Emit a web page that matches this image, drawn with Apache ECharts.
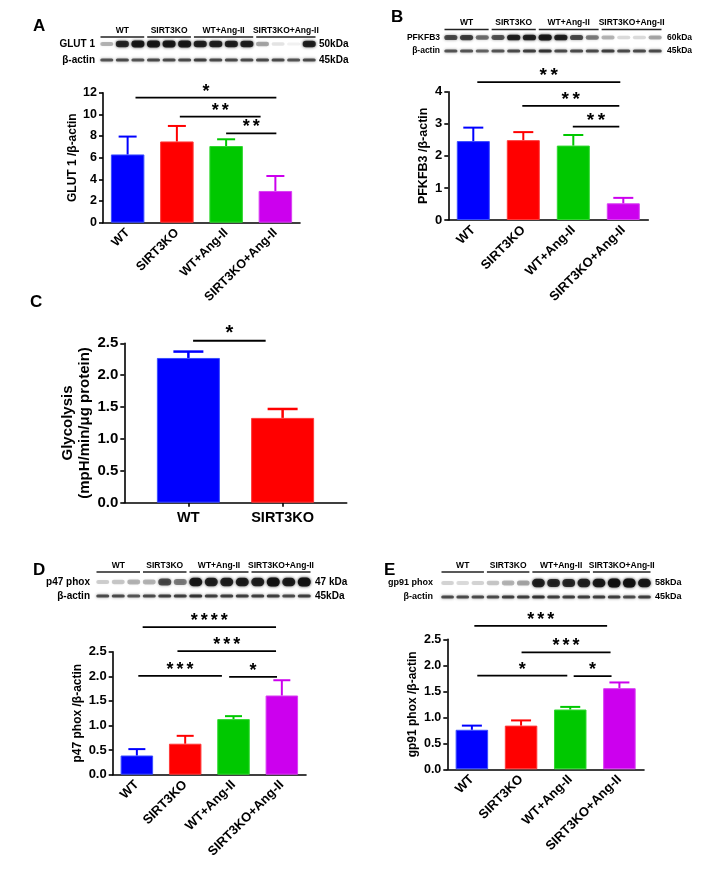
<!DOCTYPE html>
<html><head><meta charset="utf-8">
<script src="https://cdn.jsdelivr.net/npm/echarts@6/dist/echarts.min.js"></script>
<style>html,body{margin:0;padding:0;background:#fff}#c{width:717px;height:881px}</style>
</head><body><div id="c"></div><script>
// ---------- DATA ----------
const groups4 = ['WT', 'SIRT3KO', 'WT+Ang-II', 'SIRT3KO+Ang-II'];
const groups2 = ['WT', 'SIRT3KO'];

const glut1Mean = [6.3, 7.5, 7.08, 2.93];
const glut1Err  = [1.65, 1.43, 0.62, 1.38];
const glut1Sig  = [[0.16, 3.02, 11.54, '*'], [1.06, 2.70, 9.79, '**'], [2.0, 3.02, 8.25, '**']];

const pfkfb3Mean = [2.46, 2.49, 2.32, 0.52];
const pfkfb3Err  = [0.42, 0.25, 0.33, 0.17];
const pfkfb3Sig  = [[0.08, 2.94, 4.30, '**'], [0.98, 2.92, 3.56, '**'], [1.99, 2.92, 2.91, '**']];

const glyMean = [2.27, 1.33];
const glyErr  = [0.10, 0.14];
const glySig  = [[0.05, 0.82, 2.54, '*']];

const p47Mean = [0.39, 0.63, 1.13, 1.61];
const p47Err  = [0.13, 0.16, 0.06, 0.31];
const p47Sig  = [[0.12, 2.88, 3.0, '****'], [0.84, 2.88, 2.51, '***'], [0.03, 1.76, 2.01, '***'], [1.91, 2.90, 1.99, '*']];

const gp91Mean = [0.76, 0.84, 1.15, 1.56];
const gp91Err  = [0.08, 0.10, 0.05, 0.11];
const gp91Sig  = [[0.05, 2.75, 2.76, '***'], [1.01, 2.82, 2.25, '***'], [0.11, 1.94, 1.80, '*'], [2.07, 2.84, 1.79, '*']];

// western blot lanes (relative band intensity 0..1), 14 lanes
const laneGroups = [[0, 2], [3, 5], [6, 9], [10, 13]];
const glut1Bands  = [0.3, 0.85, 0.95, 0.95, 0.95, 0.95, 0.9, 0.9, 0.9, 0.9, 0.35, 0.12, 0.06, 0.9];
const glut1Actin  = [0.65, 0.7, 0.65, 0.7, 0.7, 0.7, 0.75, 0.7, 0.7, 0.7, 0.7, 0.7, 0.65, 0.7];
const pfkfb3Bands = [0.7, 0.75, 0.55, 0.65, 0.9, 0.9, 0.95, 0.9, 0.7, 0.5, 0.3, 0.15, 0.15, 0.35];
const pfkfb3Actin = [0.65, 0.65, 0.6, 0.65, 0.7, 0.75, 0.8, 0.7, 0.7, 0.7, 0.75, 0.7, 0.7, 0.7];
const p47Bands    = [0.2, 0.22, 0.3, 0.3, 0.7, 0.5, 0.95, 0.9, 0.9, 0.92, 0.9, 1, 0.92, 1];
const p47Actin    = [0.7, 0.7, 0.65, 0.7, 0.75, 0.75, 0.8, 0.75, 0.75, 0.75, 0.75, 0.75, 0.7, 0.75];
const gp91Bands   = [0.18, 0.15, 0.18, 0.22, 0.3, 0.35, 0.9, 0.85, 0.85, 0.9, 0.95, 1, 1, 0.95];
const gp91Actin   = [0.7, 0.7, 0.7, 0.7, 0.75, 0.75, 0.8, 0.75, 0.75, 0.75, 0.75, 0.75, 0.7, 0.75];

// ---------- STYLE ----------
const FONT = '"Liberation Sans", Arial, sans-serif';
const colors4 = ['#0000ff', '#ff0000', '#00c800', '#cc00ee'];
const border4 = ['#3a4dff', '#ff3a3a', '#30d830', '#d840f2'];
const grids = [], xAxes = [], yAxes = [], series = [];

function addBarPanel(p) {
  const gi = grids.length;
  grids.push({left: p.left, top: p.top, width: p.width, height: p.height});
  const isCat = !p.xRange;
  const xi = xAxes.length, yi = yAxes.length;
  const lineS = {color: '#000', width: 1.6};
  const lab = {fontSize: p.xFont, fontWeight: 'bold', color: '#000', fontFamily: FONT, margin: p.xMargin};
  if (isCat) {
    xAxes.push({type: 'category', gridIndex: gi, data: p.cats,
      axisLine: {onZero: false, lineStyle: lineS}, axisTick: {alignWithLabel: true, length: 4, lineStyle: lineS},
      axisLabel: Object.assign({rotate: p.rotate || 0, interval: 0}, lab), splitLine: {show: false}});
  } else {
    xAxes.push({type: 'value', gridIndex: gi, min: p.xRange[0], max: p.xRange[1],
      axisLine: {show: true, onZero: false, lineStyle: lineS},
      axisTick: {show: true, customValues: p.cats.map((c, i) => i), length: 4, lineStyle: lineS},
      axisLabel: Object.assign({customValues: p.cats.map((c, i) => i), formatter: v => p.cats[Math.round(v)]}, lab),
      splitLine: {show: false}});
  }
  yAxes.push({type: 'value', gridIndex: gi, min: p.yMin, max: p.yMax, interval: p.yInt,
    name: p.yName, nameLocation: 'middle', nameGap: p.nameGap, nameRotate: 90,
    nameTextStyle: {fontSize: p.nameFont, fontWeight: 'bold', color: '#000', fontFamily: FONT, lineHeight: p.nameLH || p.nameFont + 2},
    axisLine: {show: true, onZero: false, lineStyle: lineS}, axisTick: {show: true, length: 4, lineStyle: lineS},
    axisLabel: {formatter: v => v.toFixed(p.dec), fontSize: p.yFont, fontWeight: 'bold', color: '#000', fontFamily: FONT, margin: 6},
    splitLine: {show: false}});
  series.push({type: 'bar', xAxisIndex: xi, yAxisIndex: yi, barWidth: p.barWidth, silent: true,
    data: p.means.map((v, i) => ({value: isCat ? v : [i, v], itemStyle: {color: colors4[i], borderColor: border4[i], borderWidth: 1}}))});
  series.push({type: 'custom', xAxisIndex: xi, yAxisIndex: yi, silent: true, z: 3,
    data: p.means.map((v, i) => [i, v]),
    renderItem: (params, api) => {
      const i = params.dataIndex;
      const b = api.coord([i, p.means[i]]);
      const t = api.coord([i, p.means[i] + p.errs[i]]);
      const st = {stroke: colors4[i], lineWidth: p.errW};
      return {type: 'group', children: [
        {type: 'line', shape: {x1: b[0], y1: b[1], x2: t[0], y2: t[1]}, style: st},
        {type: 'line', shape: {x1: t[0] - p.cap, y1: t[1], x2: t[0] + p.cap, y2: t[1]}, style: st}
      ]};
    }});
  series.push({type: 'custom', xAxisIndex: xi, yAxisIndex: yi, silent: true, z: 3,
    data: p.sig.map(s => [Math.round(s[0]), s[2]]),
    renderItem: (params, api) => {
      const s = p.sig[params.dataIndex];
      const xp = f => {
        if (!isCat) return api.coord([f, 0])[0];
        const fl = Math.floor(f);
        return api.coord([fl, 0])[0] + (f - fl) * api.size([1, 0])[0];
      };
      const x1 = xp(s[0]), x2 = xp(s[1]);
      const y = api.coord([0, s[2]])[1];
      const n = s[3].length, mid = (x1 + x2) / 2;
      const ch = [{type: 'line', shape: {x1: x1, y1: y, x2: x2, y2: y}, style: {stroke: '#000', lineWidth: 1.8}}];
      for (let k = 0; k < n; k++) {
        ch.push({type: 'text', style: {text: '*', x: mid + (k - (n - 1) / 2) * p.starPitch, y: y - p.starDy,
          align: 'center', verticalAlign: 'middle', font: 'bold ' + p.starFont + 'px ' + FONT, fill: '#000'}});
      }
      return {type: 'group', children: ch};
    }});
}

function addBlot(b) {
  const gi = grids.length;
  const rowH = b.yActin - b.yTarget;
  grids.push({left: b.x0, top: b.yTarget - rowH / 2, width: b.x1 - b.x0, height: 2 * rowH});
  const xi = xAxes.length, yi = yAxes.length;
  xAxes.push({type: 'category', gridIndex: gi, data: b.bands.map((v, i) => 'L' + (i + 1)), show: false});
  const lab = {fontSize: b.font, fontWeight: 'bold', color: '#000', fontFamily: FONT, interval: 0, hideOverlap: false};
  yAxes.push({type: 'category', gridIndex: gi, data: [b.name, 'β-actin'], inverse: true, position: 'left',
    axisLine: {show: false}, axisTick: {show: false}, axisLabel: Object.assign({margin: b.lm}, lab)});
  yAxes.push({type: 'category', gridIndex: gi, data: [b.kda, '45kDa'], inverse: true, position: 'right',
    axisLine: {show: false}, axisTick: {show: false}, axisLabel: Object.assign({margin: b.rm}, lab)});
  const items = [];
  b.bands.forEach((v, i) => items.push([i, 0, v]));
  b.actin.forEach((v, i) => items.push([i, 1, v]));
  series.push({type: 'custom', xAxisIndex: xi, yAxisIndex: yi, silent: true, data: items,
    renderItem: (params, api) => {
      const it = items[params.dataIndex];
      const c = api.coord([it[0], it[1]]);
      const w = api.size([1, 0])[0] * 0.84;
      const h = it[1] === 0 ? b.hMin + (b.hMax - b.hMin) * it[2] : b.hActin;
      const col = 'rgba(15,15,15,' + (it[2] * 0.95).toFixed(2) + ')';
      return {type: 'rect', shape: {x: c[0] - w / 2, y: c[1] - h / 2, width: w, height: h, r: h / 2},
        style: {fill: col, shadowBlur: 3, shadowColor: col}};
    }});
  series.push({type: 'custom', xAxisIndex: xi, yAxisIndex: yi, silent: true,
    data: laneGroups.map(g => [g[0], 0]),
    renderItem: (params, api) => {
      const g = laneGroups[params.dataIndex];
      const lw = api.size([1, 0])[0];
      const a = api.coord([g[0], 0]), e = api.coord([g[1], 0]);
      const x1 = a[0] - lw / 2 + 1.5, x2 = e[0] + lw / 2 - 1.5, y = a[1] - b.hdr;
      return {type: 'group', children: [
        {type: 'line', shape: {x1: x1, y1: y, x2: x2, y2: y}, style: {stroke: '#222', lineWidth: 1.3}},
        {type: 'text', style: {text: groups4[params.dataIndex], x: (x1 + x2) / 2, y: y - 2, align: 'center', verticalAlign: 'bottom',
          font: 'bold ' + b.hFont + 'px ' + FONT, fill: '#000'}}
      ]};
    }});
}

// ---------- PANELS ----------
addBlot({x0: 99, x1: 317, yTarget: 44, yActin: 60, name: 'GLUT 1', kda: '50kDa', bands: glut1Bands, actin: glut1Actin,
  font: 10, lm: 4, rm: 2, hMin: 3, hMax: 7, hActin: 3, hdr: 7, hFont: 8.5});
addBlot({x0: 443, x1: 663, yTarget: 37.5, yActin: 51, name: 'PFKFB3', kda: '60kDa', bands: pfkfb3Bands, actin: pfkfb3Actin,
  font: 8.5, lm: 3, rm: 4, hMin: 3, hMax: 6, hActin: 3, hdr: 8, hFont: 8.5});
addBlot({x0: 95, x1: 312, yTarget: 582, yActin: 596, name: 'p47 phox', kda: '47 kDa', bands: p47Bands, actin: p47Actin,
  font: 10, lm: 5, rm: 3, hMin: 3, hMax: 9, hActin: 3, hdr: 10, hFont: 8.5});
addBlot({x0: 440, x1: 652, yTarget: 583, yActin: 597, name: 'gp91 phox', kda: '58kDa', bands: gp91Bands, actin: gp91Actin,
  font: 9, lm: 7, rm: 3, hMin: 3, hMax: 9, hActin: 3, hdr: 11, hFont: 8.5});

addBarPanel({left: 103, top: 92.7, width: 197, height: 130, cats: groups4, rotate: 45, xFont: 12.5, xMargin: 8,
  yMin: 0, yMax: 12, yInt: 2, dec: 0, yFont: 12.5, yName: 'GLUT 1 /β-actin', nameGap: 21, nameFont: 12,
  means: glut1Mean, errs: glut1Err, barWidth: 33.5, cap: 9, errW: 2, sig: glut1Sig, starPitch: 10, starFont: 18, starDy: 6});
addBarPanel({left: 448.3, top: 91.7, width: 200, height: 128.3, cats: groups4, rotate: 45, xFont: 13, xMargin: 8,
  yMin: 0, yMax: 4, yInt: 1, dec: 0, yFont: 13, yName: 'PFKFB3 /β-actin', nameGap: 12, nameFont: 12.5,
  means: pfkfb3Mean, errs: pfkfb3Err, barWidth: 33, cap: 10, errW: 2, sig: pfkfb3Sig, starPitch: 11, starFont: 19, starDy: 6});
addBarPanel({left: 124.3, top: 343.3, width: 222.4, height: 159.4, cats: groups2, xRange: [-0.68, 1.68], xFont: 14.5, xMargin: 8,
  yMin: 0, yMax: 2.5, yInt: 0.5, dec: 1, yFont: 15, yName: 'Glycolysis\n(mpH/min/μg protein)', nameGap: 27, nameFont: 15, nameLH: 17,
  means: glyMean, errs: glyErr, barWidth: 63, cap: 15, errW: 2.5, sig: glySig, starPitch: 10, starFont: 20, starDy: 7});
addBarPanel({left: 112.7, top: 651.7, width: 193.3, height: 123, cats: groups4, rotate: 45, xFont: 13, xMargin: 8,
  yMin: 0, yMax: 2.5, yInt: 0.5, dec: 1, yFont: 13, yName: 'p47 phox /β-actin', nameGap: 23, nameFont: 12,
  means: p47Mean, errs: p47Err, barWidth: 32.5, cap: 8.5, errW: 2, sig: p47Sig, starPitch: 10, starFont: 18, starDy: 6});
addBarPanel({left: 447.3, top: 639.3, width: 196.7, height: 130, cats: groups4, rotate: 45, xFont: 13, xMargin: 8,
  yMin: 0, yMax: 2.5, yInt: 0.5, dec: 1, yFont: 12.5, yName: 'gp91 phox /β-actin', nameGap: 24, nameFont: 12,
  means: gp91Mean, errs: gp91Err, barWidth: 32.5, cap: 10, errW: 2, sig: gp91Sig, starPitch: 10, starFont: 18, starDy: 6});

const letterStyle = {fontSize: 17, fontWeight: 'bold', color: '#000', fontFamily: FONT};
const titles = [['A', 33, 18], ['B', 391, 9], ['C', 30, 294], ['D', 33, 562], ['E', 384, 562]].map(t => (
  {text: t[0], left: t[1], top: t[2], padding: 0, textStyle: letterStyle}));

const chart = echarts.init(document.getElementById('c'), null, {renderer: 'canvas'});
chart.setOption({animation: false, backgroundColor: '#fff', title: titles, grid: grids, xAxis: xAxes, yAxis: yAxes, series: series});
</script></body></html>
